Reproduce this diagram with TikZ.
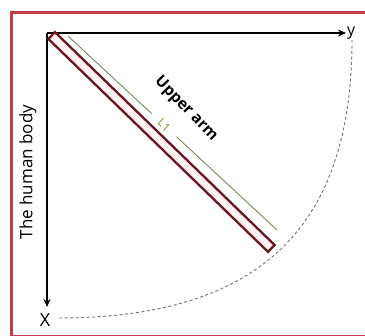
\documentclass[tikz,border=0pt]{standalone}
\usepackage{fontspec}
\setmainfont{Open Sans}
\usetikzlibrary{arrows.meta,calc}
\definecolor{framered}{RGB}{196,62,72}
\definecolor{armred}{RGB}{105,22,32}
\definecolor{armfill}{RGB}{255,240,242}
\definecolor{lgreen}{RGB}{112,140,88}
\definecolor{ltext}{RGB}{125,140,40}
\tikzset{
  axis/.style={line width=1.8pt, black, -{Stealth[length=8pt,width=7pt]}},
  armbar/.style={draw=armred, line width=2.3pt, fill=armfill, minimum width=306pt, minimum height=9.5pt, inner sep=0pt, rotate=-44.1},
  lenline/.style={draw=lgreen, line width=0.9pt},
  arc/.style={line width=0.9pt, black!55, dash pattern=on 3pt off 2.5pt},
  lbl/.style={inner sep=0pt}
}
\begin{document}
\begin{tikzpicture}[x=1pt,y=-1pt]
\useasboundingbox (0,0) rectangle (365,336);
\clip (0,0) rectangle (365,336);
\fill[white] (0,0) rectangle (365,336);
\draw[framered, line width=2.8pt] (11.5,12.5) rectangle (400,336.5);
% coordinates
\coordinate (O) at (47,33);
\coordinate (Yend) at (346,33);
\coordinate (Xend) at (47,307);
\coordinate (A1) at (352,40);
\coordinate (A2) at (58,318);
% dashed arc
\draw[arc] (A1) .. controls (352,229) and (258,318) .. (A2);
% axes
\draw[axis] (O) -- (Yend);
\draw[axis] (O) -- (Xend);
\node[lbl, anchor=west, font=\fontsize{16}{16}\selectfont] (ylab) at (347,33) {y};
\node[lbl, font=\fontsize{18}{18}\selectfont] (xlab) at (45,320) {X};
\node[lbl, rotate=90, font=\fontsize{17}{17}\selectfont] (body) at (28,172) {The human body};
% upper arm bar
\node[armbar] (arm) at (161.5,142) {};
% L1 line
\coordinate (G1) at (68,36);
\coordinate (G2) at (277,230);
\coordinate (Lc) at ($(G1)!0.46!(G2)$);
\draw[lenline] (G1) -- ($(G1)!0.40!(G2)$);
\draw[lenline] ($(G1)!0.52!(G2)$) -- (G2);
\node[inner sep=0pt, text=ltext, font=\fontsize{11.5}{11.5}\selectfont, rotate=-43] (L1) at (Lc) {L1};
\node[inner sep=0pt, font=\bfseries\fontsize{15.5}{15.5}\selectfont, rotate=-46] (ua) at (186,109) {Upper arm};
\end{tikzpicture}
\end{document}
